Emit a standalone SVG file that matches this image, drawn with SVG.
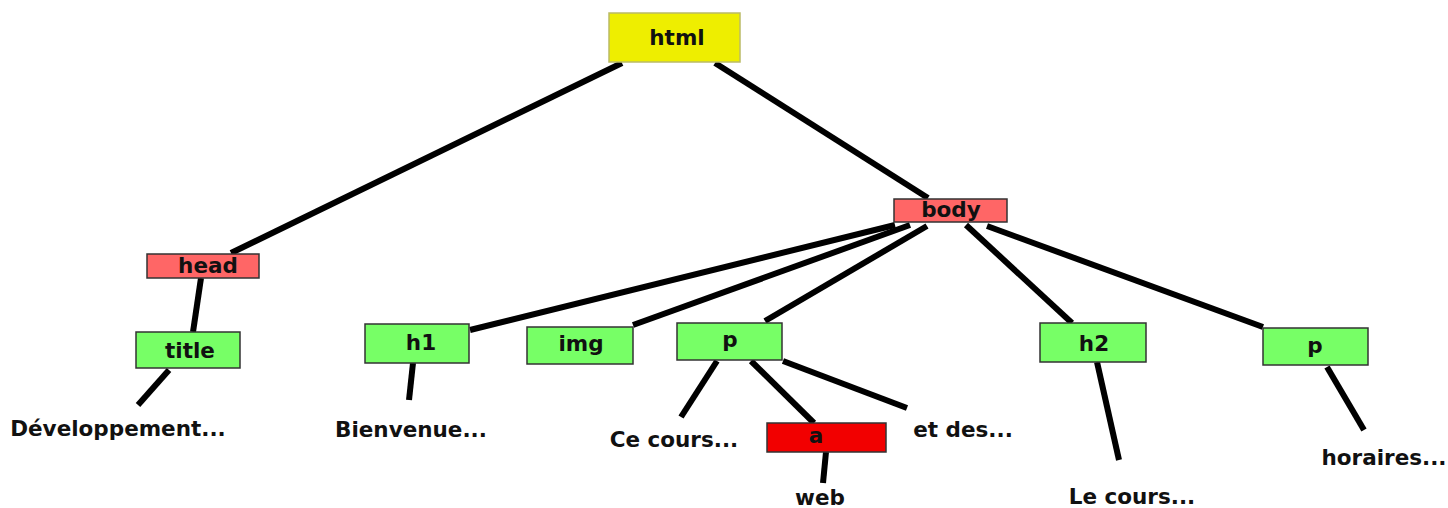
<svg xmlns="http://www.w3.org/2000/svg" width="1448" height="508" viewBox="0 0 1448 508">
<style>
  .n { stroke: #333; stroke-width: 1.5; }
  .y { fill: #eeee00; stroke: #bbbb66; }
  .r { fill: #ff6666; }
  .g { fill: #77ff66; }
  .a { fill: #f20000; }
  text { font-family: "DejaVu Sans", Verdana, sans-serif; font-weight: bold; font-size: 21.5px; fill: #111; text-anchor: middle; }
  .c line { stroke: #000; stroke-width: 6; stroke-linecap: butt; }
</style>
<rect width="1448" height="508" fill="#fff"/>
<g class="c" id="connectors">
  <line x1="622" y1="63" x2="231" y2="253"/>
  <line x1="715" y1="63" x2="928" y2="198"/>
  <line x1="201" y1="278" x2="193" y2="332"/>
  <line x1="169" y1="370" x2="138" y2="405"/>
  <line x1="895" y1="225" x2="470" y2="330"/>
  <line x1="910" y1="225" x2="633" y2="325"/>
  <line x1="927" y1="226" x2="765" y2="321"/>
  <line x1="966" y1="225" x2="1072" y2="323"/>
  <line x1="987" y1="226" x2="1263" y2="327"/>
  <line x1="413" y1="363" x2="409" y2="400"/>
  <line x1="717" y1="361" x2="681" y2="417"/>
  <line x1="751" y1="361" x2="814" y2="423"/>
  <line x1="783" y1="361" x2="907" y2="408"/>
  <line x1="826" y1="452" x2="823" y2="483"/>
  <line x1="1097" y1="362" x2="1119" y2="460"/>
  <line x1="1327" y1="367" x2="1364" y2="430"/>
</g>
<g id="html"><rect class="n y" x="609" y="13" width="131" height="49"/><text x="677" y="45">html</text></g>
<g id="head"><rect class="n r" x="147" y="254" width="112" height="24"/><text x="208" y="273">head</text></g>
<g id="title"><rect class="n g" x="136" y="332" width="104" height="36"/><text x="190" y="358">title</text></g>
<g id="body"><rect class="n r" x="894" y="199" width="113" height="23"/><text x="951" y="217">body</text></g>
<g id="h1"><rect class="n g" x="365" y="324" width="104" height="39"/><text x="421" y="350">h1</text></g>
<g id="img"><rect class="n g" x="527" y="327" width="106" height="37"/><text x="581" y="351">img</text></g>
<g id="p1"><rect class="n g" x="677" y="323" width="105" height="37"/><text x="730" y="347">p</text></g>
<g id="a"><rect class="n a" x="767" y="423" width="119" height="29"/><text x="816" y="443">a</text></g>
<g id="h2"><rect class="n g" x="1040" y="323" width="106" height="39"/><text x="1094" y="351">h2</text></g>
<g id="p2"><rect class="n g" x="1263" y="328" width="105" height="37"/><text x="1315" y="353">p</text></g>
<g id="t-dev"><text x="118" y="436">Développement...</text></g>
<g id="t-bienvenue"><text x="411" y="437">Bienvenue...</text></g>
<g id="t-cecours"><text x="674" y="447">Ce cours...</text></g>
<g id="t-etdes"><text x="963" y="437">et des...</text></g>
<g id="t-web"><text x="820" y="505">web</text></g>
<g id="t-lecours"><text x="1132" y="504">Le cours...</text></g>
<g id="t-horaires"><text x="1384" y="465">horaires...</text></g>
</svg>
